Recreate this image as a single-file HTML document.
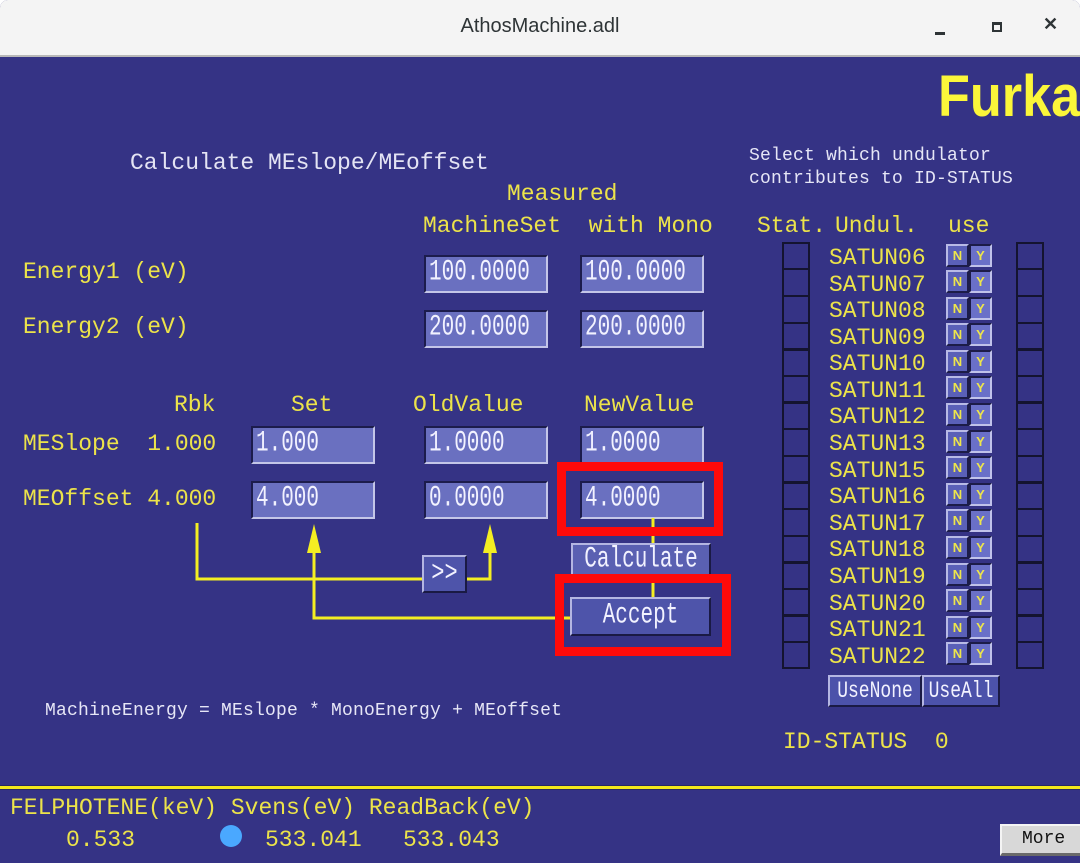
<!DOCTYPE html>
<html><head><meta charset="utf-8">
<style>
*{margin:0;padding:0;box-sizing:border-box}
html,body{width:1080px;height:863px;overflow:hidden;background:#fff}
#win{position:absolute;left:0;top:0;width:1080px;height:863px;background:#353385;border-radius:8px 8px 0 0;overflow:hidden}
#tb{position:absolute;left:0;top:0;width:1080px;height:57px;background:#f4f4f4;border-bottom:2px solid #b8b8b8}
#tb .t{position:absolute;left:0;width:1080px;top:15px;text-align:center;font:20px "Liberation Sans",sans-serif;color:#2e3436}
.a{position:absolute;white-space:pre}
.m{font-family:"Liberation Mono",monospace;font-size:23px;line-height:26px;height:26px}
.y{color:#ece34a}
.w{color:#e4e4f4}
.s{font-family:"Liberation Mono",monospace;font-size:18px;line-height:22px;color:#e6e6f6;letter-spacing:0.2px}
.in{position:absolute;background:#6a70c0;border-top:2px solid #1c1c4c;border-left:2px solid #1c1c4c;border-bottom:2px solid #c4c6e8;border-right:2px solid #c4c6e8;overflow:hidden}
.in span,.bt span{display:inline-block;font-family:"Liberation Mono",monospace;font-size:21px;line-height:22px;color:#f2f2ff;transform:scaleY(1.42);transform-origin:left center;white-space:pre}
.in span{position:absolute;left:3px;top:6px}
.bt{position:absolute;background:#4e54aa;border-top:2px solid #b4b6e2;border-left:2px solid #b4b6e2;border-bottom:2px solid #1a1a44;border-right:2px solid #1a1a44;text-align:center;overflow:hidden}
.cell{position:absolute;border:2px solid #141430;width:28px}
.nb{position:absolute;width:23px;height:23px;background:#5a60b8;border-top:2px solid #b8bae6;border-left:2px solid #b8bae6;border-bottom:2px solid #1c1c48;border-right:2px solid #1c1c48;color:#eee64a;font:bold 13px/19px "Liberation Sans",sans-serif;text-align:center}
.yb{position:absolute;width:23px;height:23px;background:#6a70c8;border-top:2px solid #1c1c48;border-left:2px solid #1c1c48;border-bottom:2px solid #c0c2ea;border-right:2px solid #c0c2ea;color:#eee64a;font:bold 13px/19px "Liberation Sans",sans-serif;text-align:center}
.red{position:absolute;border:9px solid #ff0a0a}
</style></head><body>
<div id="win">
<div id="tb"><div class="t">AthosMachine.adl</div>
<div class="a" style="left:935px;top:32px;width:10px;height:3px;background:#2e3436"></div>
<div class="a" style="left:992px;top:22px;width:10px;height:10px;border:2px solid #2e3436;border-top-width:3px"></div>
<div class="a" style="left:1043px;top:14px;font:bold 18px 'Liberation Sans',sans-serif;color:#2e3436">✕</div>
</div>

<div class="a" style="left:938px;top:62px;font:bold 58px/70px 'Liberation Sans',sans-serif;color:#fbf63a;transform:scaleX(0.9);transform-origin:left top">Furka</div>

<div class="a m w" style="left:130px;top:150px">Calculate MEslope/MEoffset</div>
<div class="a m y" style="left:507px;top:181px">Measured</div>
<div class="a m y" style="left:423px;top:213px">MachineSet  with Mono</div>
<div class="a m y" style="left:23px;top:259px">Energy1 (eV)</div>
<div class="a m y" style="left:23px;top:314px">Energy2 (eV)</div>
<div class="a m y" style="left:174px;top:392px">Rbk</div>
<div class="a m y" style="left:291px;top:392px">Set</div>
<div class="a m y" style="left:413px;top:392px">OldValue</div>
<div class="a m y" style="left:584px;top:392px">NewValue</div>
<div class="a m y" style="left:23px;top:431px">MESlope  1.000</div>
<div class="a m y" style="left:23px;top:486px">MEOffset 4.000</div>

<div class="in" style="left:424px;top:255px;width:124px;height:38px"><span>100.0000</span></div>
<div class="in" style="left:580px;top:255px;width:124px;height:38px"><span>100.0000</span></div>
<div class="in" style="left:424px;top:310px;width:124px;height:38px"><span>200.0000</span></div>
<div class="in" style="left:580px;top:310px;width:124px;height:38px"><span>200.0000</span></div>
<div class="in" style="left:251px;top:426px;width:124px;height:38px"><span>1.000</span></div>
<div class="in" style="left:424px;top:426px;width:124px;height:38px"><span>1.0000</span></div>
<div class="in" style="left:580px;top:426px;width:124px;height:38px"><span>1.0000</span></div>
<div class="in" style="left:251px;top:481px;width:124px;height:38px"><span>4.000</span></div>
<div class="in" style="left:424px;top:481px;width:124px;height:38px"><span>0.0000</span></div>
<div class="in" style="left:580px;top:481px;width:124px;height:38px"><span>4.0000</span></div>

<svg class="a" style="left:0;top:0" width="1080" height="863">
<g stroke="#f4ee22" stroke-width="3" fill="none">
<polyline points="197,523 197,579 424,579"/>
<polyline points="466,579 490,579 490,530"/>
<polyline points="314,530 314,618 572,618"/>
<line x1="653" y1="518" x2="653" y2="545"/>
<line x1="653" y1="575" x2="653" y2="599"/>
</g>
<g fill="#f4ee22">
<polygon points="314,524 307,553 321,553"/>
<polygon points="490,524 483,553 497,553"/>
</g>
</svg>

<div class="bt" style="left:422px;top:555px;width:45px;height:38px"><span style="margin-top:6px;transform:scaleY(1.3);font-size:22px">&gt;&gt;</span></div>
<div class="bt" style="left:571px;top:543px;width:140px;height:36px;background:#5a60b2"><span style="margin-top:5px">Calculate</span></div>
<div class="bt" style="left:570px;top:597px;width:141px;height:39px"><span style="margin-top:7px">Accept</span></div>

<div class="red" style="left:557px;top:462px;width:166px;height:74px"></div>
<div class="red" style="left:555px;top:574px;width:176px;height:82px"></div>

<div class="a s" style="left:45px;top:700px">MachineEnergy = MEslope * MonoEnergy + MEoffset</div>

<div class="a s" style="left:749px;top:145px;line-height:23px">Select which undulator
contributes to ID-STATUS</div>
<div class="a m y" style="left:757px;top:213px">Stat.</div>
<div class="a m y" style="left:835px;top:213px">Undul.</div>
<div class="a m y" style="left:948px;top:213px">use</div>

<div id="rows">
<div class="cell" style="left:782px;top:242px;height:28px"></div><div class="cell" style="left:1016px;top:242px;height:28px"></div><div class="a m y" style="left:829px;top:245px">SATUN06</div><div class="nb" style="left:946px;top:244px">N</div><div class="yb" style="left:969px;top:244px">Y</div>
<div class="cell" style="left:782px;top:268px;height:29px"></div><div class="cell" style="left:1016px;top:268px;height:29px"></div><div class="a m y" style="left:829px;top:272px">SATUN07</div><div class="nb" style="left:946px;top:270px">N</div><div class="yb" style="left:969px;top:270px">Y</div>
<div class="cell" style="left:782px;top:295px;height:29px"></div><div class="cell" style="left:1016px;top:295px;height:29px"></div><div class="a m y" style="left:829px;top:298px">SATUN08</div><div class="nb" style="left:946px;top:297px">N</div><div class="yb" style="left:969px;top:297px">Y</div>
<div class="cell" style="left:782px;top:322px;height:29px"></div><div class="cell" style="left:1016px;top:322px;height:29px"></div><div class="a m y" style="left:829px;top:325px">SATUN09</div><div class="nb" style="left:946px;top:323px">N</div><div class="yb" style="left:969px;top:323px">Y</div>
<div class="cell" style="left:782px;top:348px;height:29px"></div><div class="cell" style="left:1016px;top:348px;height:29px"></div><div class="a m y" style="left:829px;top:351px">SATUN10</div><div class="nb" style="left:946px;top:350px">N</div><div class="yb" style="left:969px;top:350px">Y</div>
<div class="cell" style="left:782px;top:375px;height:29px"></div><div class="cell" style="left:1016px;top:375px;height:29px"></div><div class="a m y" style="left:829px;top:378px">SATUN11</div><div class="nb" style="left:946px;top:376px">N</div><div class="yb" style="left:969px;top:376px">Y</div>
<div class="cell" style="left:782px;top:401px;height:29px"></div><div class="cell" style="left:1016px;top:401px;height:29px"></div><div class="a m y" style="left:829px;top:404px">SATUN12</div><div class="nb" style="left:946px;top:403px">N</div><div class="yb" style="left:969px;top:403px">Y</div>
<div class="cell" style="left:782px;top:428px;height:29px"></div><div class="cell" style="left:1016px;top:428px;height:29px"></div><div class="a m y" style="left:829px;top:431px">SATUN13</div><div class="nb" style="left:946px;top:430px">N</div><div class="yb" style="left:969px;top:430px">Y</div>
<div class="cell" style="left:782px;top:455px;height:29px"></div><div class="cell" style="left:1016px;top:455px;height:29px"></div><div class="a m y" style="left:829px;top:458px">SATUN15</div><div class="nb" style="left:946px;top:456px">N</div><div class="yb" style="left:969px;top:456px">Y</div>
<div class="cell" style="left:782px;top:481px;height:29px"></div><div class="cell" style="left:1016px;top:481px;height:29px"></div><div class="a m y" style="left:829px;top:484px">SATUN16</div><div class="nb" style="left:946px;top:483px">N</div><div class="yb" style="left:969px;top:483px">Y</div>
<div class="cell" style="left:782px;top:508px;height:29px"></div><div class="cell" style="left:1016px;top:508px;height:29px"></div><div class="a m y" style="left:829px;top:511px">SATUN17</div><div class="nb" style="left:946px;top:509px">N</div><div class="yb" style="left:969px;top:509px">Y</div>
<div class="cell" style="left:782px;top:535px;height:29px"></div><div class="cell" style="left:1016px;top:535px;height:29px"></div><div class="a m y" style="left:829px;top:537px">SATUN18</div><div class="nb" style="left:946px;top:536px">N</div><div class="yb" style="left:969px;top:536px">Y</div>
<div class="cell" style="left:782px;top:561px;height:29px"></div><div class="cell" style="left:1016px;top:561px;height:29px"></div><div class="a m y" style="left:829px;top:564px">SATUN19</div><div class="nb" style="left:946px;top:563px">N</div><div class="yb" style="left:969px;top:563px">Y</div>
<div class="cell" style="left:782px;top:588px;height:29px"></div><div class="cell" style="left:1016px;top:588px;height:29px"></div><div class="a m y" style="left:829px;top:591px">SATUN20</div><div class="nb" style="left:946px;top:589px">N</div><div class="yb" style="left:969px;top:589px">Y</div>
<div class="cell" style="left:782px;top:614px;height:29px"></div><div class="cell" style="left:1016px;top:614px;height:29px"></div><div class="a m y" style="left:829px;top:617px">SATUN21</div><div class="nb" style="left:946px;top:616px">N</div><div class="yb" style="left:969px;top:616px">Y</div>
<div class="cell" style="left:782px;top:641px;height:28px"></div><div class="cell" style="left:1016px;top:641px;height:28px"></div><div class="a m y" style="left:829px;top:644px">SATUN22</div><div class="nb" style="left:946px;top:642px">N</div><div class="yb" style="left:969px;top:642px">Y</div>
</div>

<div class="bt" style="left:828px;top:675px;width:94px;height:32px;background:#4c52aa"><span style="margin-top:4px;font-size:18px;transform:scaleY(1.3)">UseNone</span></div>
<div class="bt" style="left:922px;top:675px;width:78px;height:32px;background:#4c52aa"><span style="margin-top:4px;font-size:18px;transform:scaleY(1.3)">UseAll</span></div>

<div class="a m y" style="left:783px;top:729px">ID-STATUS  0</div>

<div class="a" style="left:0;top:785px;width:1080px;height:5px;background:#2a2a60"></div>
<div class="a" style="left:0;top:786px;width:1080px;height:3px;background:#f4e81c"></div>

<div class="a m y" style="left:10px;top:795px">FELPHOTENE(keV) Svens(eV) ReadBack(eV)</div>
<div class="a m y" style="left:66px;top:827px">0.533</div>
<div class="a" style="left:220px;top:825px;width:22px;height:22px;border-radius:50%;background:#4aa8ff"></div>
<div class="a m y" style="left:265px;top:827px">533.041</div>
<div class="a m y" style="left:403px;top:827px">533.043</div>

<div class="a" style="left:1000px;top:824px;width:82px;height:32px;background:#d8d8d8;border-top:2px solid #f4f4f4;border-left:2px solid #f4f4f4;border-bottom:3px solid #6a6a6a;border-right:2px solid #6a6a6a;font:18px/26px 'Liberation Mono',monospace;color:#111;padding-left:20px">More</div>
</div>
</body></html>
